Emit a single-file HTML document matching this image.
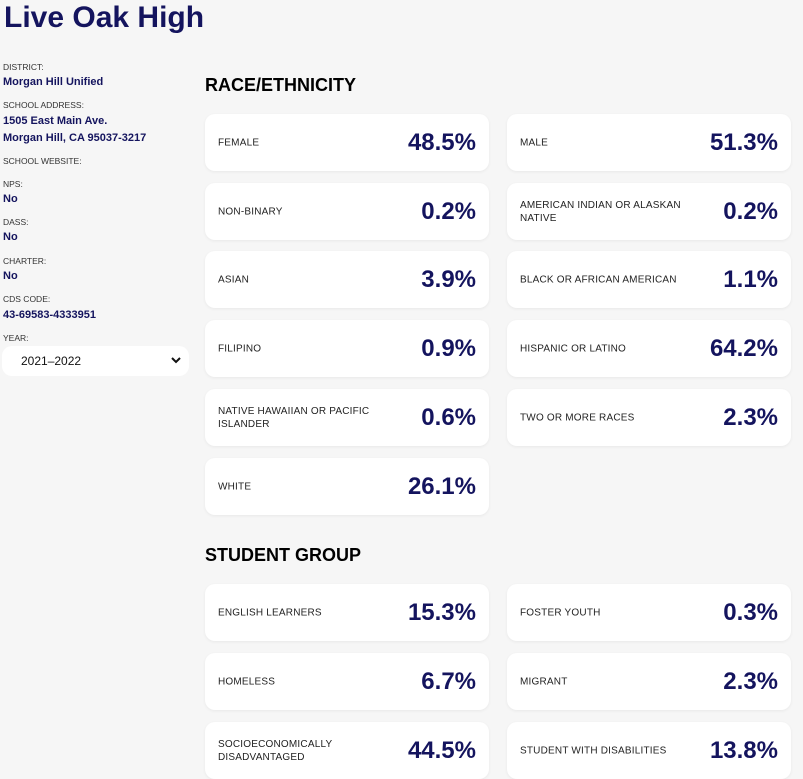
<!DOCTYPE html>
<html><head><meta charset="utf-8"><style>
*{box-sizing:border-box;margin:0;padding:0}
body{width:803px;height:772px;overflow:hidden;background:#f6f6f6;font-family:"Liberation Sans",sans-serif;position:relative;color:#111}
h1{position:absolute;left:4px;top:1px;font-size:30px;font-weight:bold;color:#14145e;font-family:"Liberation Sans",sans-serif}
.lab{position:absolute;left:3px;font-size:8.5px;color:#333}
.val{position:absolute;left:3px;font-size:11px;font-weight:bold;color:#14145e}
.sel{position:absolute;left:2px;top:346px;width:187px;height:30px;background:#fff;border-radius:10px;font-size:12px;padding:8px 0 0 19px;color:#111}
.sel svg{position:absolute;right:8px;top:11px}
h2{position:absolute;left:205px;font-size:18px;font-weight:bold;color:#000}
.c{position:absolute;width:284px;height:57px;background:#fff;border-radius:10px;box-shadow:0 1px 3px rgba(0,0,0,0.06)}
.c .t{position:absolute;left:13px;top:50%;transform:translateY(-50%);font-size:10px;color:#222;line-height:13px;width:180px;letter-spacing:0.2px}
.c .n{position:absolute;right:13px;top:50%;transform:translateY(-50%);font-size:24px;font-weight:bold;color:#14145e}
.L{left:205px}.R{left:507px}
</style></head><body>
<h1>Live Oak High</h1>
<div class="lab" style="top:62px">DISTRICT:</div>
<div class="val" style="top:76px">Morgan Hill Unified</div>
<div class="lab" style="top:100px">SCHOOL ADDRESS:</div>
<div class="val" style="top:115px">1505 East Main Ave.</div>
<div class="val" style="top:132px">Morgan Hill, CA 95037-3217</div>
<div class="lab" style="top:156px">SCHOOL WEBSITE:</div>
<div class="lab" style="top:179px">NPS:</div>
<div class="val" style="top:193px">No</div>
<div class="lab" style="top:217px">DASS:</div>
<div class="val" style="top:231px">No</div>
<div class="lab" style="top:256px">CHARTER:</div>
<div class="val" style="top:270px">No</div>
<div class="lab" style="top:294px">CDS CODE:</div>
<div class="val" style="top:309px">43-69583-4333951</div>
<div class="lab" style="top:333px">YEAR:</div>
<div class="sel">2021–2022<svg width="10" height="7" viewBox="0 0 10 7"><path d="M1 1 L5 5 L9 1" stroke="#111" stroke-width="2" fill="none"/></svg></div>

<h2 style="top:75px">RACE/ETHNICITY</h2>
<div class="c L" style="top:114px"><div class="t">FEMALE</div><div class="n">48.5%</div></div>
<div class="c R" style="top:114px"><div class="t">MALE</div><div class="n">51.3%</div></div>
<div class="c L" style="top:183px"><div class="t">NON-BINARY</div><div class="n">0.2%</div></div>
<div class="c R" style="top:183px"><div class="t">AMERICAN INDIAN OR ALASKAN NATIVE</div><div class="n">0.2%</div></div>
<div class="c L" style="top:251px"><div class="t">ASIAN</div><div class="n">3.9%</div></div>
<div class="c R" style="top:251px"><div class="t">BLACK OR AFRICAN AMERICAN</div><div class="n">1.1%</div></div>
<div class="c L" style="top:320px"><div class="t">FILIPINO</div><div class="n">0.9%</div></div>
<div class="c R" style="top:320px"><div class="t">HISPANIC OR LATINO</div><div class="n">64.2%</div></div>
<div class="c L" style="top:389px"><div class="t">NATIVE HAWAIIAN OR PACIFIC ISLANDER</div><div class="n">0.6%</div></div>
<div class="c R" style="top:389px"><div class="t">TWO OR MORE RACES</div><div class="n">2.3%</div></div>
<div class="c L" style="top:458px"><div class="t">WHITE</div><div class="n">26.1%</div></div>

<h2 style="top:545px">STUDENT GROUP</h2>
<div class="c L" style="top:584px"><div class="t">ENGLISH LEARNERS</div><div class="n">15.3%</div></div>
<div class="c R" style="top:584px"><div class="t">FOSTER YOUTH</div><div class="n">0.3%</div></div>
<div class="c L" style="top:653px"><div class="t">HOMELESS</div><div class="n">6.7%</div></div>
<div class="c R" style="top:653px"><div class="t">MIGRANT</div><div class="n">2.3%</div></div>
<div class="c L" style="top:722px"><div class="t">SOCIOECONOMICALLY DISADVANTAGED</div><div class="n">44.5%</div></div>
<div class="c R" style="top:722px"><div class="t">STUDENT WITH DISABILITIES</div><div class="n">13.8%</div></div>
</body></html>
